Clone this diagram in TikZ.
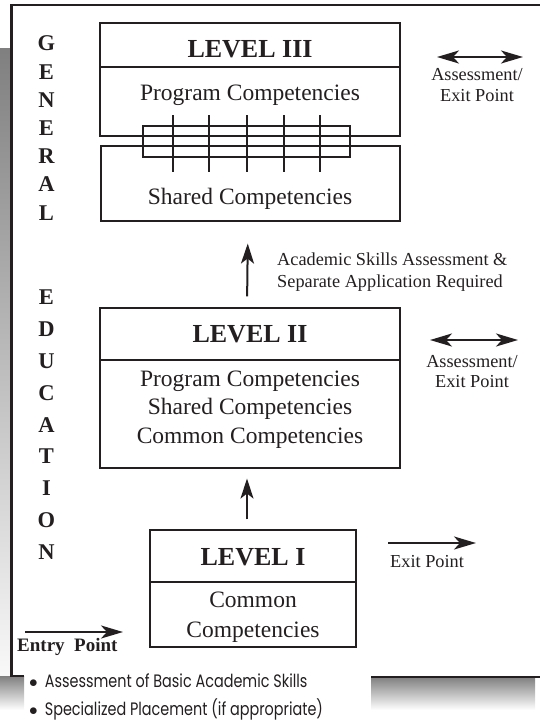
\documentclass[tikz,border=0pt]{standalone}
\usepackage{fontspec}
\setmainfont{Liberation Serif}
\newfontfamily\bulfont[FakeStretch=0.8]{Poppins}
\usetikzlibrary{arrows.meta}
\definecolor{ink}{HTML}{231F20}
\definecolor{shade}{HTML}{D1D2D4}
\begin{document}
\begin{tikzpicture}[x=1pt,y=-1pt,
  box/.style={draw=ink, line width=1.1pt, inner sep=0pt},
  txt/.style={inner sep=0pt, text=ink, anchor=base, font=\fontsize{23.5}{26}\selectfont},
  head/.style={inner sep=0pt, text=ink, anchor=base, font=\fontsize{26}{28}\selectfont\bfseries},
  small/.style={inner sep=0pt, text=ink, anchor=base, font=\fontsize{18.3}{20}\selectfont},
  vlet/.style={inner sep=0pt, text=ink, font=\fontsize{22.5}{24}\selectfont\bfseries},
  bul/.style={inner sep=0pt, text=ink, anchor=base west, font=\fontsize{18}{20}\bulfont},
  frame/.style={draw=ink, line width=2.4pt},
  bar/.style={draw=ink, line width=2.4pt},
  uparr/.style={draw=ink, line width=2pt, -{Stealth[length=20pt,width=13pt,inset=5pt]}},
  harr/.style={draw=ink, line width=2.4pt, -{Stealth[length=22pt,width=13pt,inset=6pt]}},
  dblarr/.style={draw=ink, line width=2.4pt, {Stealth[length=22pt,width=13pt,inset=6pt]}-{Stealth[length=22pt,width=13pt,inset=6pt]}}
]
\useasboundingbox (0,0) rectangle (539,721);
% shadow
\fill[shade] (0,48) rectangle (11,710);
\fill[shade] (0,676) rectangle (24,710);
\fill[shade] (371,677) rectangle (535,710);
% frame
\draw[frame] (24,676) -- (11.5,676) -- (11.5,5) -- (545,5);
\draw[frame] (371,677) -- (545,677);

% vertical letters
\foreach \l [count=\i from 0] in {G,E,N,E,R,A,L}
  \node[vlet] at (46.5,43.5+28.2*\i) {\l};
\foreach \l [count=\i from 0] in {E,D,U,C,A,T,I,O,N}
  \node[vlet] at (46.5,297.5+31.8*\i) {\l};

% Level III
\node[box, minimum width=300pt, minimum height=44pt] (l3h) at (250,45) {};
\node[box, minimum width=300pt, minimum height=69pt] (l3b) at (250,101.5) {};
\node[box, minimum width=299pt, minimum height=75pt] (sh) at (250.5,183.5) {};
\node[head] at (250,57) {LEVEL III};
\node[txt] at (250,100) {Program Competencies};
\node[txt] at (250,204) {Shared Competencies};
\draw[ink, line width=1.1pt] (143,126) rectangle (350,157);
\foreach \x in {173,209,247,284,320}
  \draw[bar] (\x,115) -- (\x,172);

% Level II
\node[box, minimum width=300pt, minimum height=52pt] (l2h) at (250,334) {};
\node[box, minimum width=300pt, minimum height=108pt] (l2b) at (250,414) {};
\node[head] at (250,342) {LEVEL II};
\node[txt] at (250,386) {Program Competencies};
\node[txt] at (250,414) {Shared Competencies};
\node[txt] at (250,443) {Common Competencies};

% Level I
\node[box, minimum width=206pt, minimum height=52pt] (l1h) at (253,556) {};
\node[box, minimum width=206pt, minimum height=65pt] (l1b) at (253,614.5) {};
\node[head] at (253,565) {LEVEL I};
\node[txt] at (253,607) {Common};
\node[txt] at (253,637) {Competencies};

% vertical arrows
\draw[uparr, shorten <=11pt, shorten >=22pt] ([xshift=-3pt]l2h.north) -- ([xshift=-2.5pt]sh.south);
\draw[uparr, shorten <=10pt, shorten >=10pt] ([xshift=-6pt]l1h.north) -- ([xshift=-3pt]l2b.south);
\node[small, anchor=base west] at (277,265) {Academic Skills Assessment \&};
\node[small, anchor=base west] at (277,287) {Separate Application Required};

% side arrows
\coordinate (a3l) at (437,57); \coordinate (a3r) at (523,57);
\draw[dblarr] (a3l) -- (a3r);
\node[small] at (477,80) {Assessment/};
\node[small] at (477,101) {Exit Point};
\coordinate (a2l) at (430,340); \coordinate (a2r) at (518,340);
\draw[dblarr] (a2l) -- (a2r);
\node[small] at (472,367) {Assessment/};
\node[small] at (472,387) {Exit Point};
\coordinate (a1l) at (388,543); \coordinate (a1r) at (476,543);
\draw[harr] (a1l) -- (a1r);
\node[small, anchor=base west] at (390,567) {Exit Point};
\coordinate (enl) at (25,632); \coordinate (enr) at (123,632);
\draw[harr] (enl) -- (enr);
\node[inner sep=0pt, text=ink, anchor=base west, font=\fontsize{19}{20}\selectfont\bfseries] at (17,651) {Entry\hspace{0.5em}Point};

% bullets
\node[bul] at (29,687) {$\bullet$\hspace{7pt}Assessment of Basic Academic Skills};
\node[bul] at (29,715) {$\bullet$\hspace{7pt}Specialized Placement (if appropriate)};
\end{tikzpicture}
\end{document}
